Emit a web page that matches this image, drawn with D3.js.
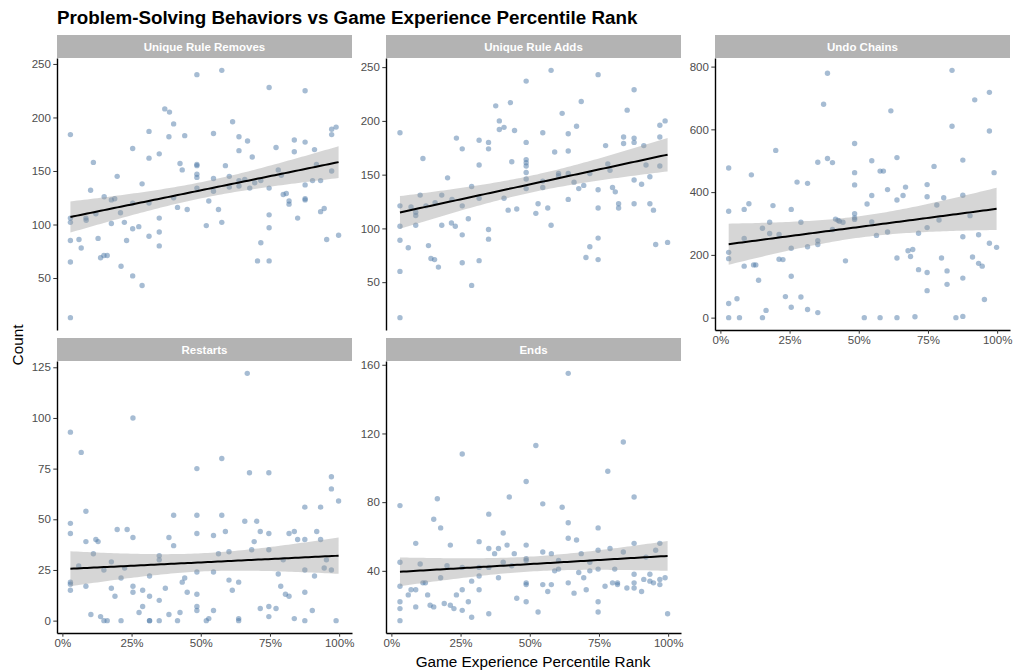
<!DOCTYPE html>
<html>
<head>
<meta charset="utf-8">
<script src="https://cdn.jsdelivr.net/npm/d3@7"></script>
<style>
  body { margin: 0; background: #fff; }
  svg { font-family: "Liberation Sans", Arial, Helvetica, sans-serif; }
</style>
</head>
<body>
<div id="chart"></div>
<script>
// --- data: [percentile rank, count] ---
const ruleRemoves = [
  [0.029,184],[0.029,106],[0.029,102],[0.029,85],[0.029,65],[0.029,13],
  [0.060,86],[0.068,78],[0.085,106],[0.086,104],[0.102,132],[0.112,158],[0.121,110],[0.129,87],
  [0.138,69],[0.150,71],[0.162,71],[0.151,126],[0.177,123],[0.189,124],[0.177,101],[0.198,145],
  [0.210,111],[0.212,61],[0.224,102],[0.232,85],[0.254,171],[0.254,120],[0.254,96],[0.254,52],
  [0.276,98],[0.288,138],[0.288,43],[0.313,187],[0.313,162],[0.313,120],[0.313,89],[0.350,166],
  [0.350,106],[0.350,93],[0.350,80],[0.370,208],[0.387,205],[0.385,182],[0.402,194],[0.402,125],
  [0.416,116],[0.425,157],[0.433,151],[0.442,183],[0.451,114],[0.486,240],[0.486,156],[0.486,155],
  [0.486,147],[0.486,144],[0.486,134],
  [0.576,244],[0.546,185],[0.546,143],[0.546,131],[0.529,122],[0.564,114],[0.520,99],[0.576,102],
  [0.589,155],[0.603,145],[0.603,135],[0.615,196],[0.638,182],[0.638,169],[0.638,141],[0.638,136],
  [0.659,142],[0.669,178],[0.686,163],[0.677,134],[0.695,139],[0.717,141],[0.705,66],[0.717,83],
  [0.747,228],[0.747,134],[0.747,109],[0.747,97],[0.747,66],[0.772,172],[0.780,151],[0.791,146],
  [0.798,128],[0.809,129],[0.819,122],[0.819,119],[0.838,179],[0.838,168],[0.850,106],[0.877,225],
  [0.877,177],[0.877,137],[0.877,123],[0.877,124],[0.904,141],[0.911,170],[0.918,156],[0.933,141],
  [0.933,112],[0.946,115],[0.955,86],[0.973,189],[0.973,184],[0.989,191],[0.973,150],[0.998,90]
];

const ruleAdds = [
  [0.031,189],[0.031,121],[0.031,102],[0.031,89],[0.031,60],[0.031,17],[0.061,82],[0.071,120],
  [0.088,115],[0.088,112],[0.088,103],[0.104,131],[0.114,165],[0.125,121],[0.134,84],[0.143,72],
  [0.156,71],[0.158,124],[0.170,64],[0.182,131],[0.182,103],[0.203,147],[0.217,105],[0.219,127],
  [0.231,102],[0.235,184],[0.256,174],[0.256,121],[0.256,94],[0.256,68],[0.278,109],[0.290,139],
  [0.290,47],[0.317,182],[0.317,159],[0.317,128],[0.317,70],[0.351,180],[0.351,174],[0.351,99],
  [0.351,90],[0.377,214],[0.390,200],[0.390,192],[0.407,194],[0.407,128],[0.422,117],[0.430,217],
  [0.435,162],[0.445,191],[0.453,118],[0.487,237],[0.487,180],[0.487,164],[0.487,161],[0.487,158],
  [0.487,152],[0.487,146],[0.487,137],
  [0.577,247],[0.547,189],[0.547,144],[0.547,138],[0.530,123],[0.522,114],[0.565,119],[0.577,103],
  [0.590,171],[0.604,151],[0.604,149],[0.617,207],[0.639,188],[0.639,172],[0.639,151],[0.639,127],
  [0.660,143],[0.669,195],[0.686,218],[0.677,137],[0.695,140],[0.717,151],[0.703,73],[0.717,83],
  [0.747,243],[0.747,136],[0.747,119],[0.747,91],[0.747,71],[0.774,177],[0.782,160],[0.790,154],
  [0.799,138],[0.809,134],[0.821,123],[0.821,119],[0.839,185],[0.839,179],[0.852,210],[0.877,229],
  [0.877,184],[0.877,180],[0.877,145],[0.877,123],[0.904,141],[0.912,177],[0.920,159],[0.934,148],
  [0.934,123],[0.947,117],[0.955,85],[0.970,196],[0.970,185],[0.970,158],[0.989,200],[0.998,87]
];

const undoChains = [
  [0.030,477],[0.030,339],[0.030,208],[0.030,188],[0.030,45],[0.030,0],[0.060,60],[0.069,0],
  [0.086,345],[0.086,164],[0.086,252],[0.103,363],[0.112,455],[0.120,168],[0.128,168],[0.138,119],
  [0.152,285],[0.152,0],[0.165,23],[0.178,268],[0.178,304],[0.190,357],[0.200,533],[0.212,265],
  [0.212,186],[0.226,185],[0.235,67],[0.256,345],[0.256,221],[0.256,132],[0.256,33],[0.277,432],
  [0.291,304],[0.291,66],[0.315,428],[0.315,226],[0.315,26],[0.352,495],[0.352,245],[0.352,233],
  [0.352,16],[0.373,680],[0.387,779],[0.387,507],[0.405,494],[0.405,281],[0.416,314],[0.425,310],
  [0.430,307],[0.443,304],[0.452,181],
  [0.485,555],[0.485,462],[0.485,423],[0.485,331],[0.485,318],[0.485,313],[0.520,0],[0.530,362],
  [0.547,389],[0.547,500],[0.547,305],[0.564,262],[0.577,467],[0.577,0],[0.589,467],[0.604,408],
  [0.604,273],[0.616,659],[0.638,510],[0.638,375],[0.638,190],[0.638,0],[0.660,389],[0.669,416],
  [0.678,213],[0.687,195],[0.695,217],[0.703,3],[0.716,269],[0.716,153],[0.747,424],[0.747,385],
  [0.747,287],[0.747,144],[0.747,86],[0.772,482],[0.782,359],[0.790,311],[0.799,190],[0.807,382],
  [0.819,149],[0.819,106],[0.837,788],[0.837,610],[0.851,0],[0.876,502],[0.876,390],[0.876,258],
  [0.876,126],[0.876,4],[0.902,325],[0.911,193],[0.919,694],[0.933,264],[0.933,173],[0.946,164],
  [0.954,58],[0.972,718],[0.972,595],[0.972,237],[0.989,462],[0.998,224]
];

const restarts = [
  [0.029,93],[0.029,48],[0.029,43],[0.029,19],[0.029,18],[0.029,15],[0.059,27],[0.068,83],
  [0.085,54],[0.085,39],[0.085,17],[0.103,3],[0.112,33],[0.121,40],[0.129,39],[0.138,2],
  [0.150,25],[0.150,0],[0.162,0],[0.177,29],[0.177,16],[0.190,12],[0.198,45],[0.212,0],
  [0.212,21],[0.225,26],[0.234,45],[0.255,100],[0.255,41],[0.255,17],[0.255,14],[0.277,4],
  [0.290,15],[0.290,7],[0.315,22],[0.315,12],[0.315,0],[0.315,0],[0.350,32],[0.350,30],
  [0.350,10],[0.350,0],[0.372,16],[0.385,41],[0.385,3],[0.402,52],[0.402,37],[0.416,0],
  [0.425,4],[0.433,19],[0.442,21],[0.451,14],[0.486,75],[0.486,52],[0.486,43],[0.486,24],
  [0.486,13],[0.486,7],[0.486,5],
  [0.520,0],[0.529,1],[0.546,42],[0.546,24],[0.546,5],[0.564,33],[0.576,80],[0.576,52],
  [0.589,44],[0.602,34],[0.602,20],[0.614,15],[0.637,19],[0.637,1],[0.637,0],[0.659,49],
  [0.668,122],[0.676,73],[0.684,35],[0.693,39],[0.702,49],[0.715,44],[0.715,6],[0.746,73],
  [0.746,43],[0.746,35],[0.746,7],[0.746,2],[0.772,6],[0.780,23],[0.789,17],[0.798,30],
  [0.806,13],[0.819,43],[0.819,12],[0.838,44],[0.838,1],[0.850,40],[0.876,56],[0.876,40],
  [0.876,25],[0.876,14],[0.876,0],[0.903,5],[0.911,22],[0.919,44],[0.933,56],[0.933,40],
  [0.946,26],[0.954,30],[0.972,71],[0.972,65],[0.972,25],[0.989,0],[0.998,59]
];

const ends = [
  [0.031,78],[0.031,45],[0.031,31],[0.031,22],[0.031,18],[0.031,11],[0.061,26],[0.071,29],
  [0.088,56],[0.088,29],[0.088,19],[0.104,44],[0.114,33],[0.123,33],[0.131,26],[0.140,20],
  [0.153,70],[0.153,19],[0.166,82],[0.178,65],[0.178,36],[0.191,21],[0.201,43],[0.213,55],
  [0.213,20],[0.226,18],[0.235,26],[0.256,108],[0.256,42],[0.256,29],[0.256,17],[0.278,22],
  [0.290,34],[0.290,13],[0.317,57],[0.317,42],[0.317,37],[0.317,29],[0.352,73],[0.352,53],
  [0.352,42],[0.352,15],[0.373,50],[0.387,53],[0.387,36],[0.404,62],[0.404,45],[0.418,55],
  [0.426,83],[0.435,43],[0.444,50],[0.453,24],[0.487,92],[0.487,55],[0.487,47],[0.487,46],
  [0.487,33],[0.487,32],[0.487,22],
  [0.522,113],[0.530,16],[0.547,79],[0.547,51],[0.547,32],[0.565,28],[0.578,50],[0.578,32],
  [0.590,40],[0.604,41],[0.604,46],[0.617,77],[0.639,155],[0.639,68],[0.639,59],[0.639,33],
  [0.660,27],[0.669,58],[0.677,39],[0.686,50],[0.695,36],[0.704,29],[0.717,45],[0.717,40],
  [0.747,65],[0.747,52],[0.747,41],[0.747,22],[0.747,16],[0.772,31],[0.782,98],[0.790,53],
  [0.799,33],[0.807,41],[0.817,33],[0.817,32],[0.838,115],[0.838,51],[0.851,30],[0.877,83],
  [0.877,56],[0.877,38],[0.877,33],[0.877,30],[0.904,28],[0.912,35],[0.920,48],[0.934,38],
  [0.934,34],[0.947,33],[0.955,52],[0.970,56],[0.970,35],[0.970,32],[0.989,36],[0.998,15]
];

const panelNames = ['Unique Rule Removes', 'Unique Rule Adds', 'Undo Chains', 'Restarts', 'Ends'];
const panelData = [ruleRemoves, ruleAdds, undoChains, restarts, ends];
const yTicks = [
  [50, 100, 150, 200, 250],
  [50, 100, 150, 200, 250],
  [0, 200, 400, 600, 800],
  [0, 25, 50, 75, 100, 125],
  [40, 80, 120, 160]
];
const xTicks = [0, 0.25, 0.5, 0.75, 1];

const titleText = 'Problem-Solving Behaviors vs Game Experience Percentile Rank';
const xTitle = 'Game Experience Percentile Rank';
const yTitle = 'Count';

// --- layout ---
const W = 1013, H = 671;
const colLeft = [57, 386, 715];
const panelW = 295;
const rowTop = [58, 361];
const panelH = 272;
const stripH = 23;

const color = {
  point: '#4E79A7',
  band: '#999999',
  strip: '#b3b3b3',
  tickText: '#4d4d4d',
  tick: '#333333'
};

// linear fit + 95% confidence band, like geom_smooth(method = 'lm')
const fitLm = (pts) => {
  const n = pts.length;
  const mx = d3.mean(pts, (d) => d[0]);
  const my = d3.mean(pts, (d) => d[1]);
  const sxx = d3.sum(pts, (d) => (d[0] - mx) ** 2);
  const sxy = d3.sum(pts, (d) => (d[0] - mx) * (d[1] - my));
  const b = sxy / sxx;
  const a = my - b * mx;
  const sse = d3.sum(pts, (d) => (d[1] - a - b * d[0]) ** 2);
  const s = Math.sqrt(sse / (n - 2));
  const df = n - 2;
  const tq = 1.96 + (1.96 ** 3 + 1.96) / (4 * df);
  const [x0, x1] = d3.extent(pts, (d) => d[0]);
  return d3.range(0, 81).map((i) => {
    const x = x0 + (x1 - x0) * i / 80;
    const fit = a + b * x;
    const se = s * Math.sqrt(1 / n + (x - mx) ** 2 / sxx);
    return { x, fit, lo: fit - tq * se, hi: fit + tq * se };
  });
};

const expand = (ext) => {
  const pad = (ext[1] - ext[0]) * 0.05;
  return [ext[0] - pad, ext[1] + pad];
};

const svg = d3.select('#chart')
  .append('svg')
  .attr('width', W)
  .attr('height', H);

svg.append('text')
  .attr('x', 57)
  .attr('y', 24)
  .style('font-size', '18.8px')
  .style('font-weight', 'bold')
  .attr('fill', '#000')
  .text(titleText);

// shared x scale domain across panels
const allX = d3.extent([].concat(...panelData), (d) => d[0]);
const xDomain = expand(allX);

panelData.forEach((pts, i) => {
  const col = i % 3;
  const row = Math.floor(i / 3);
  const left = colLeft[col];
  const top = rowTop[row];

  const g = svg.append('g')
    .attr('transform', `translate(${left}, ${top})`);

  // strip
  g.append('rect')
    .attr('x', 0)
    .attr('y', -stripH)
    .attr('width', panelW)
    .attr('height', stripH)
    .attr('fill', color.strip);

  g.append('text')
    .attr('x', panelW / 2)
    .attr('y', -stripH / 2)
    .attr('dy', '0.35em')
    .attr('text-anchor', 'middle')
    .attr('fill', '#fff')
    .style('font-size', '11.5px')
    .style('font-weight', 'bold')
    .text(panelNames[i]);

  const x = d3.scaleLinear().domain(xDomain).range([0, panelW]);
  const y = d3.scaleLinear()
    .domain(expand(d3.extent(pts, (d) => d[1])))
    .range([panelH, 0]);

  // points
  g.append('g')
    .selectAll('circle')
    .data(pts)
    .enter()
    .append('circle')
    .attr('cx', (d) => x(d[0]))
    .attr('cy', (d) => y(d[1]))
    .attr('r', 2.7)
    .attr('fill', color.point)
    .attr('fill-opacity', 0.5);

  // smooth
  const fit = fitLm(pts);
  g.append('path')
    .datum(fit)
    .attr('fill', color.band)
    .attr('fill-opacity', 0.4)
    .attr('d', d3.area()
      .x((d) => x(d.x))
      .y0((d) => y(d.lo))
      .y1((d) => y(d.hi)));

  g.append('path')
    .datum(fit)
    .attr('fill', 'none')
    .attr('stroke', '#000')
    .attr('stroke-width', 2)
    .attr('d', d3.line()
      .x((d) => x(d.x))
      .y((d) => y(d.fit)));

  // y axis
  const yAxis = g.append('g')
    .call(d3.axisLeft(y).tickValues(yTicks[i]).tickSize(3.7).tickSizeOuter(0).tickPadding(2.5));
  yAxis.select('.domain').attr('stroke', '#000').attr('stroke-width', 1.4);
  yAxis.selectAll('.tick line').attr('stroke', color.tick);
  yAxis.selectAll('.tick text')
    .attr('fill', color.tickText)
    .style('font-size', '11.5px')
    .style('font-family', 'inherit');

  // x axis only where no panel sits below
  if (row === 1 || col === 2) {
    const xAxis = g.append('g')
      .attr('transform', `translate(0, ${panelH})`)
      .call(d3.axisBottom(x).tickValues(xTicks).tickFormat(d3.format('.0%'))
        .tickSize(3.7).tickSizeOuter(0).tickPadding(2.5));
    xAxis.select('.domain').attr('stroke', '#000').attr('stroke-width', 1.4);
    xAxis.selectAll('.tick line').attr('stroke', color.tick);
    xAxis.selectAll('.tick text')
      .attr('fill', color.tickText)
      .style('font-size', '11.5px')
      .style('font-family', 'inherit');
  }
});

// axis titles
svg.append('text')
  .attr('x', 533)
  .attr('y', 667)
  .attr('text-anchor', 'middle')
  .style('font-size', '15.3px')
  .attr('fill', '#000')
  .text(xTitle);

svg.append('text')
  .attr('transform', 'translate(23, 345) rotate(-90)')
  .attr('text-anchor', 'middle')
  .style('font-size', '15.3px')
  .attr('fill', '#000')
  .text(yTitle);
</script>
</body>
</html>
